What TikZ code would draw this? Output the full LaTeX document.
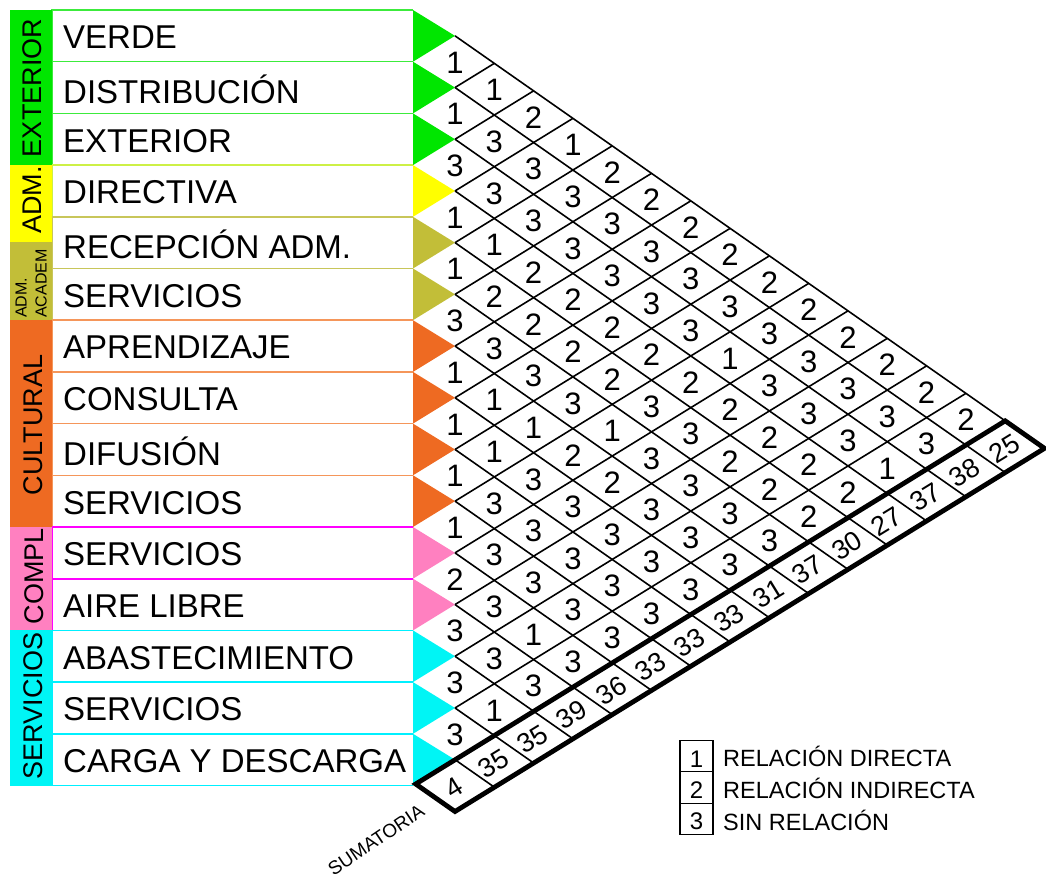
\documentclass[tikz,border=0pt]{standalone}
\usepackage{fontspec}
\setmainfont{Liberation Sans}
\definecolor{cgreen}{RGB}{0,230,0}
\definecolor{cyellow}{RGB}{255,255,0}
\definecolor{colive}{RGB}{194,190,56}
\definecolor{corange}{RGB}{238,106,34}
\definecolor{cpink}{RGB}{255,128,192}
\definecolor{ccyan}{RGB}{0,245,245}
\definecolor{lgreen}{RGB}{60,235,60}
\definecolor{lyellow}{RGB}{205,240,70}
\definecolor{lolive}{RGB}{200,198,90}
\definecolor{lorange}{RGB}{245,150,90}
\definecolor{lpink}{RGB}{255,0,255}
\definecolor{lcyan}{RGB}{0,240,255}
\tikzset{
  gridline/.style={line width=1.6pt, black},
  sumbox/.style={line width=4.8pt, black},
  rowlabel/.style={anchor=west, inner sep=0pt, font=\fontsize{33}{35}\selectfont},
  catlabel/.style={rotate=90, inner sep=0pt, font=\fontsize{27}{29}\selectfont},
  smallcat/.style={rotate=90, anchor=west, inner sep=0pt, font=\fontsize{16}{17}\selectfont},
  cellnum/.style={inner sep=0pt, font=\fontsize{31}{33}\selectfont},
  sumnum/.style={inner sep=0pt, rotate=31.6, font=\fontsize{27}{29}\selectfont},
  legbox/.style={draw, line width=1.2pt, minimum width=33pt, minimum height=31.5pt, inner sep=0pt},
  legnum/.style={inner sep=0pt, font=\fontsize{24}{26}\selectfont},
  legtext/.style={anchor=west, inner sep=0pt, font=\fontsize{23.5}{25}\selectfont},
}
\newcommand\mxrow[2]{%
  \foreach \v [count=\n] in {#2} {%
    \pgfmathtruncatemacro\jj{#1+\n}%
    \node[cellnum] (c#1-\jj) at ({455+(\n-1)*39.3}, {62.5+(#1+\n-1)*27.5+#1*24.2}) {\v};
  }%
}
\begin{document}
\begin{tikzpicture}[x=1pt,y=-1pt]
\useasboundingbox (0,0) rectangle (1046,883);
% rows: label boxes and triangles
\foreach \k/\lab/\fc/\lc in {0/VERDE/cgreen/lgreen, 1/DISTRIBUCIÓN/cgreen/lgreen, 2/EXTERIOR/cgreen/lgreen,
  3/DIRECTIVA/cyellow/lyellow, 4/RECEPCIÓN ADM./colive/lolive, 5/SERVICIOS/colive/lolive,
  6/APRENDIZAJE/corange/lorange, 7/CONSULTA/corange/lorange, 8/DIFUSIÓN/corange/lorange, 9/SERVICIOS/corange/lorange,
  10/SERVICIOS/cpink/lpink, 11/AIRE LIBRE/cpink/lpink,
  12/ABASTECIMIENTO/ccyan/lcyan, 13/SERVICIOS/ccyan/lcyan, 14/CARGA Y DESCARGA/ccyan/lcyan} {
  \pgfmathsetmacro\yT{10+51.7*\k}
  \pgfmathsetmacro\yB{10+51.7*(\k+1)}
  \pgfmathsetmacro\yM{10+51.7*\k+25.85}
  \draw[\lc, line width=1.6pt] (413,\yT) -- (52,\yT) -- (52,\yB) -- (413,\yB);
  \coordinate (tip\k) at (455,\yM);
  \fill[\fc] (413,\yT) -- (tip\k) -- (413,\yB) -- cycle;
  \node[rowlabel] (lab\k) at (63,{\yM+1.5}) {\lab};
}
% category strip
\fill[cgreen] (10,10) rectangle (52,165.1);
\fill[cyellow] (10,165.1) rectangle (52,242);
\fill[colive] (10,242) rectangle (52,320.2);
\fill[corange] (10,320.2) rectangle (52,527);
\fill[cpink] (10,527) rectangle (52,630.4);
\fill[ccyan] (10,630.4) rectangle (52,785.5);
\node[catlabel] (catext) at (32,88) {EXTERIOR};
\node[catlabel] (catadm) at (32,200) {ADM.};
\node[smallcat] (catadm2) at (21,318) {ADM.};
\node[smallcat] (catacad) at (41,318) {ACADEM};
\node[catlabel] (catcul) at (33,425) {CULTURAL};
\node[catlabel] (catcom) at (34,576) {COMPL};
\node[catlabel] (catser) at (33,706) {SERVICIOS};
% lattice
\foreach \k in {0,...,14} {
  \pgfmathsetmacro\len{15-\k}
  \draw[gridline] (tip\k) -- ++({\len*39.3},{\len*27.5});
}
\foreach \j in {1,...,14} {
  \draw[gridline] (tip\j) -- ++({\j*39.3},{-\j*24.2});
}
% sum strip
\coordinate (sL) at (415.7,784.0);
\coordinate (sT) at (1005.2,420.85);
\coordinate (sR) at (1044.5,448.35);
\coordinate (sB) at (455,811.5);
\draw[sumbox] (sL) -- (sT) -- (sR) -- (sB) -- cycle;
% cell values
\mxrow{0}{1,1,2,1,2,2,2,2,2,2,2,2,2,2}
\mxrow{1}{1,3,3,3,3,3,3,3,3,3,3,3,3}
\mxrow{2}{3,3,3,3,3,3,3,1,3,3,3,1}
\mxrow{3}{1,1,2,2,2,2,2,2,2,2,2}
\mxrow{4}{1,2,2,2,2,3,3,2,2,2}
\mxrow{5}{3,3,3,3,1,3,3,3,3}
\mxrow{6}{1,1,1,2,2,3,3,3}
\mxrow{7}{1,1,3,3,3,3,3}
\mxrow{8}{1,3,3,3,3,3}
\mxrow{9}{1,3,3,3,3}
\mxrow{10}{2,3,1,3}
\mxrow{11}{3,3,3}
\mxrow{12}{3,1}
\mxrow{13}{3}
% sums
\foreach \v [count=\n from 0] in {25,38,37,27,30,37,31,33,33,33,36,39,35,35,4} {
  \node[sumnum] (s\n) at ({1004.2-39.3*\n}, {448.7+24.2*\n}) {\v};
}
\node[inner sep=0pt, rotate=34, font=\fontsize{19}{21}\selectfont] (sumlab) at (376,840) {SUMATORIA};
% legend
\node[legbox] (k1) at (696.5,756) {};
\node[legbox] (k2) at (696.5,787.5) {};
\node[legbox] (k3) at (696.5,819) {};
\node[legnum] (n1) at (696.5,759) {1};
\node[legnum] (n2) at (696.5,790) {2};
\node[legnum] (n3) at (696.5,821) {3};
\node[legtext] (t1) at (723,756) {RELACIÓN DIRECTA};
\node[legtext] (t2) at (723,788) {RELACIÓN INDIRECTA};
\node[legtext] (t3) at (723,820) {SIN RELACIÓN};
\end{tikzpicture}
\end{document}
